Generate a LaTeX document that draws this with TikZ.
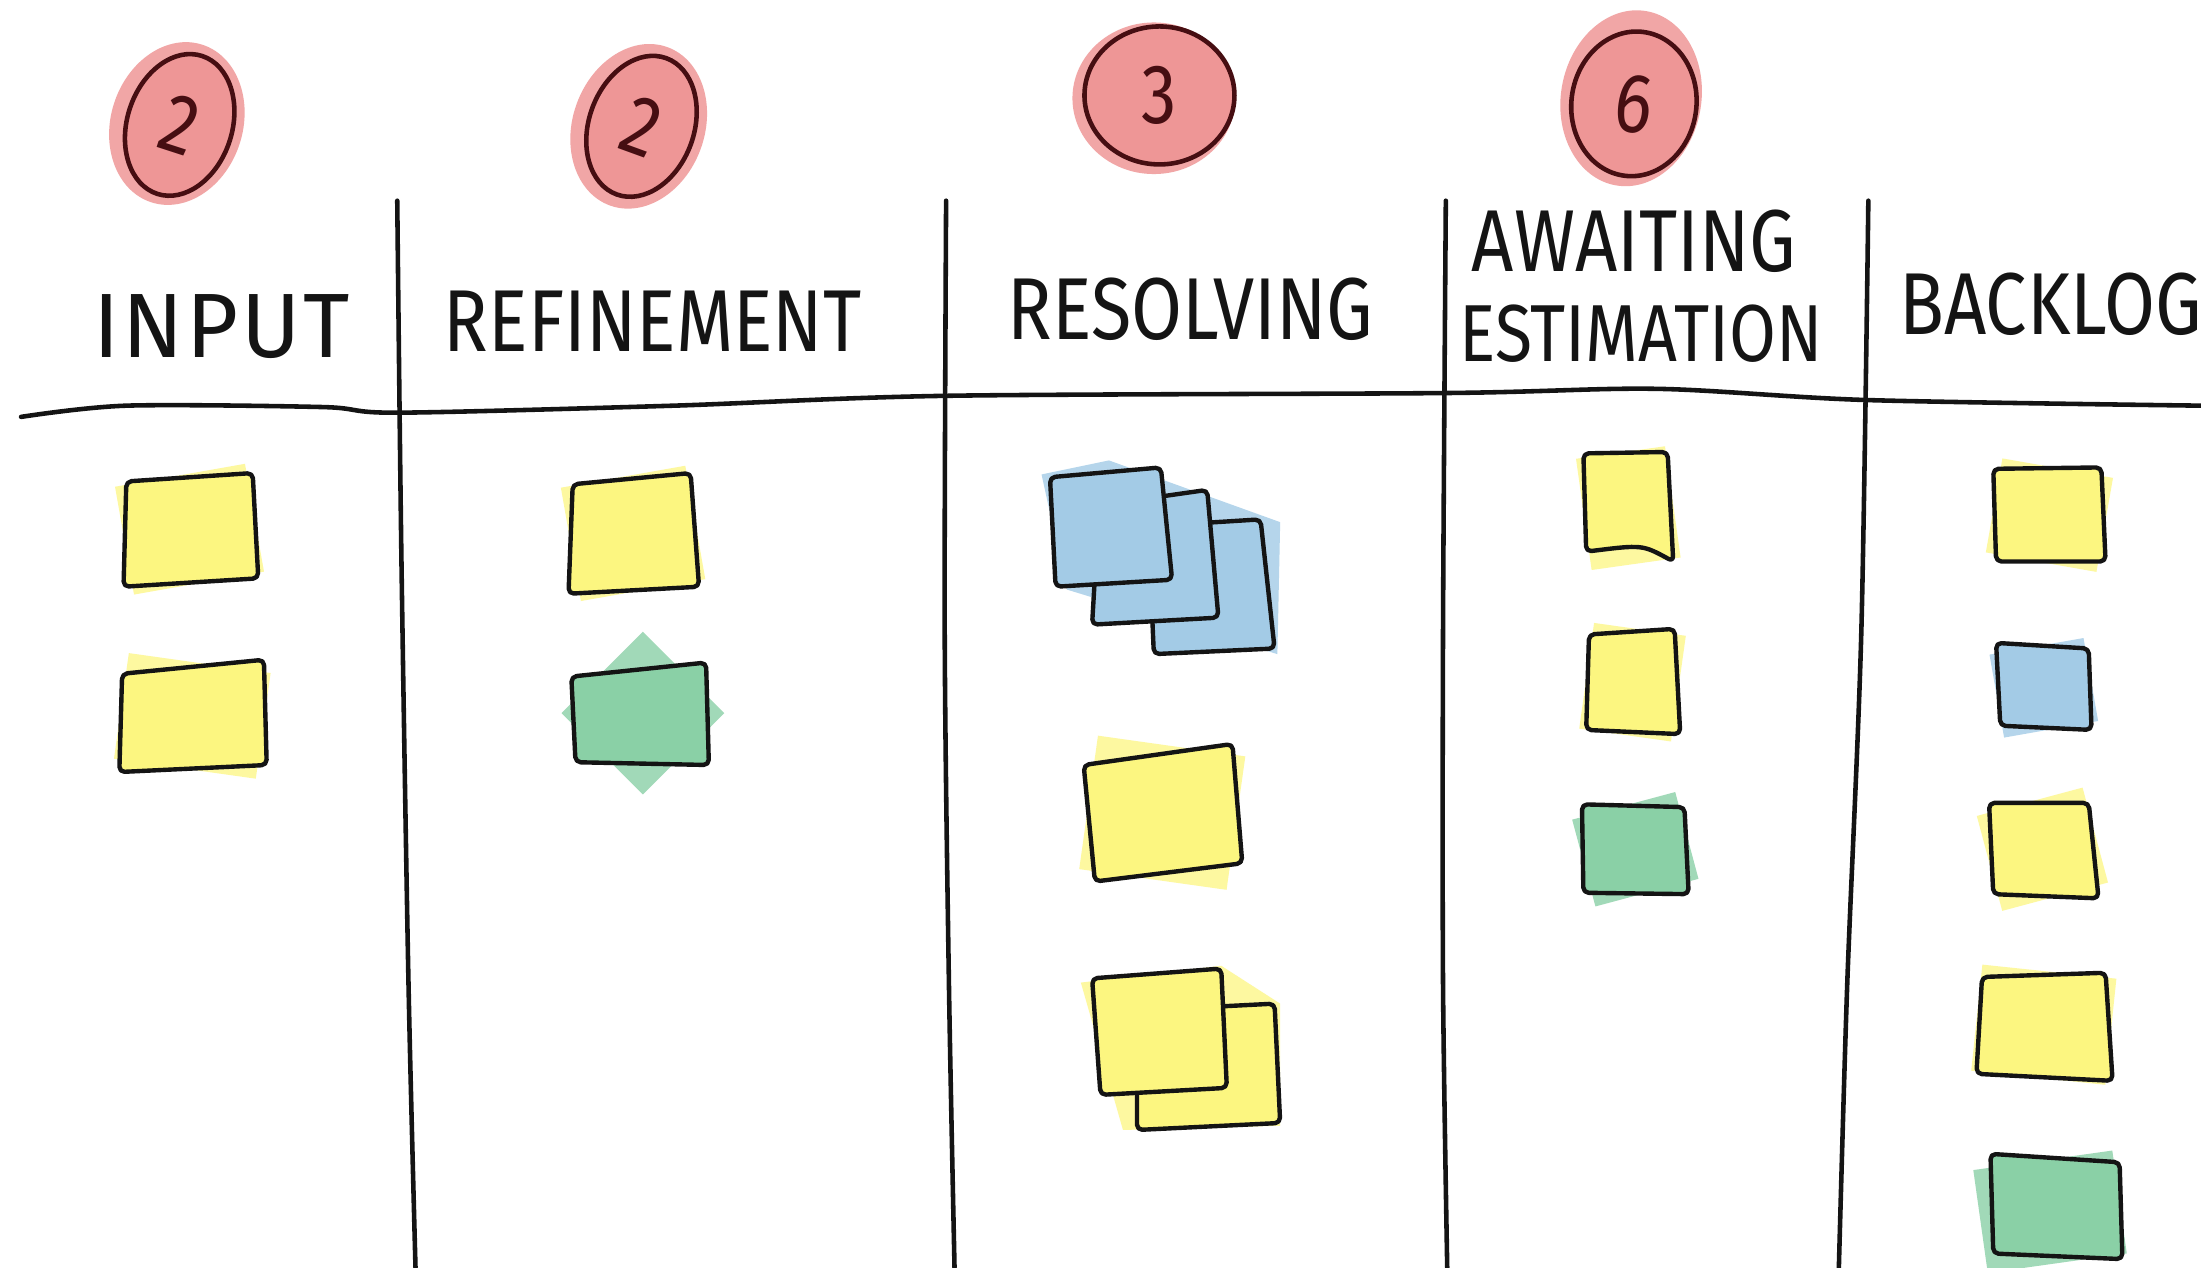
\documentclass[tikz,border=0pt]{standalone}
\usepackage{fontspec}
\usetikzlibrary{shapes.geometric}
\newfontfamily\handfont[FakeStretch=0.84]{Fira Sans}
\newfontfamily\handwide[FakeStretch=0.98, LetterSpace=3]{Fira Sans}
\definecolor{boardInk}{RGB}{20,20,20}
\definecolor{noteYellow}{RGB}{252,246,128}
\definecolor{noteBlue}{RGB}{163,203,230}
\definecolor{noteGreen}{RGB}{138,208,166}
\definecolor{badgePink}{RGB}{238,150,150}
\definecolor{badgeRing}{RGB}{70,14,18}
\tikzset{
  board/.style={line width=1.3pt, draw=boardInk, line cap=round},
  colhead/.style={font=\handfont\fontsize{25}{27}\selectfont, text=boardInk,
    align=center, inner sep=0pt},
  note/.style={line width=1.25pt, draw=boardInk, line join=round,
    rounded corners=1.5pt},
  ynote/.style={note, fill=noteYellow},
  bnote/.style={note, fill=noteBlue},
  gnote/.style={note, fill=noteGreen},
  ywash/.style={fill=noteYellow!75},
  bwash/.style={fill=noteBlue!80},
  gwash/.style={fill=noteGreen!80},
  pwash/.style={fill=badgePink!85}
}
\begin{document}
\begin{tikzpicture}[x=0.014037cm, y=-0.014037cm,
  badge/.style={ellipse, draw=badgeRing, line width=1.3pt, fill=badgePink,
    inner sep=0pt, font=\handfont\fontsize{24}{26}\selectfont,
    text=badgeRing}
]
\path[fill=white, use as bounding box] (0,0) rectangle (1568,903);

% WIP limits
\fill[pwash, rotate around={-18:(126,88)}] (126,88) ellipse (47 and 59);
\node[badge, rotate=-18, minimum width=1.05cm, minimum height=1.45cm]
  (winput) at (128,89) {2};
\fill[pwash, rotate around={-20:(455,90)}] (455,90) ellipse (47 and 60);
\node[badge, rotate=-20, minimum width=1.05cm, minimum height=1.45cm]
  (wrefine) at (457,90) {2};
\fill[pwash] (822,70) ellipse (58 and 54);
\node[badge, minimum width=1.5cm, minimum height=1.38cm]
  (wresolve) at (826,68) {3};
\fill[pwash, rotate around={-10:(1162,70)}] (1162,70) ellipse (50 and 63);
\node[badge, rotate=-8, minimum width=1.25cm, minimum height=1.45cm]
  (wawait) at (1164,74) {6};

% board
\draw[board] plot[smooth] coordinates {(15,297) (90,289) (230,290)
  (283,294) (480,289) (673,282) (1030,280) (1180,277) (1330,285) (1568,289)};
\draw[board] plot[smooth] coordinates {(283,143) (286,400) (291,700) (296,903)};
\draw[board] plot[smooth] coordinates {(674,143) (673,450) (676,700) (680,903)};
\draw[board] plot[smooth] coordinates {(1030,143) (1028,450) (1028,700) (1031,903)};
\draw[board] plot[smooth] coordinates {(1331,143) (1326,450) (1316,700) (1310,903)};

\node[colhead, font=\handwide\fontsize{26}{28}\selectfont]
  (hinput) at (158,233) {INPUT};
\node[colhead] (hrefine) at (465,229) {REFINEMENT};
\node[colhead] (hresolve) at (848,220) {RESOLVING};
\node[colhead] (hawait) at (1164,172) {AWAITING};
\node[colhead, font=\handfont\fontsize{23}{25}\selectfont]
  (hestim) at (1169,238) {ESTIMATION};
\node[colhead] (hbacklog) at (1461,217) {BACKLOG};

% input
\fill[ywash, rotate around={10:(135,377)}] (88,338) rectangle (182,416);
\filldraw[ynote] (90,343) -- (180,337) -- (184,412) -- (88,418) -- cycle;
\fill[ywash, rotate around={-8:(137,510)}] (86,472) rectangle (188,548);
\filldraw[ynote] (87,480) -- (188,470) -- (190,545) -- (85,550) -- cycle;

% refinement
\fill[ywash, rotate around={10:(451,380)}] (406,339) rectangle (496,421);
\filldraw[ynote] (408,345) -- (492,337) -- (498,418) -- (405,423) -- cycle;
\fill[gwash, rotate around={45:(458,508)}] (417,467) rectangle (499,549);
\filldraw[gnote] (407,482) -- (503,472) -- (505,545) -- (410,543) -- cycle;

% resolving
\fill[bwash] (742,338) -- (790,328) -- (912,372) -- (910,466) -- (760,420) -- cycle;
\filldraw[bnote] (818,375) -- (898,370) -- (908,462) -- (822,466) -- cycle;
\filldraw[bnote] (783,360) -- (860,349) -- (868,440) -- (778,445) -- cycle;
\filldraw[bnote] (748,340) -- (827,333) -- (835,413) -- (752,418) -- cycle;
\fill[ywash, rotate around={-8:(828,579)}] (775,531) rectangle (881,627);
\filldraw[ynote] (772,545) -- (878,530) -- (885,615) -- (780,628) -- cycle;
\fill[ywash] (770,700) -- (870,688) -- (912,715) -- (912,802) -- (800,805) -- cycle;
\filldraw[ynote] (810,720) -- (908,715) -- (912,800) -- (810,805) -- cycle;
\filldraw[ynote] (778,697) -- (870,690) -- (874,775) -- (784,780) -- cycle;

% awaiting estimation
\fill[ywash, rotate around={8:(1160,362)}] (1128,322) rectangle (1192,402);
\filldraw[ynote] (1128,323) -- (1188,322) -- (1192,400)
  .. controls (1170,388) .. (1130,393) -- cycle;
\fill[ywash, rotate around={-8:(1163,486)}] (1130,448) rectangle (1196,524);
\filldraw[ynote] (1132,452) -- (1193,448) -- (1197,523) -- (1130,520) -- cycle;
\fill[gwash, rotate around={15:(1165,605)}] (1127,573) rectangle (1203,637);
\filldraw[gnote] (1127,573) -- (1200,575) -- (1203,637) -- (1128,636) -- cycle;

% backlog
\fill[ywash, rotate around={-10:(1460,367)}] (1420,333) rectangle (1500,401);
\filldraw[ynote] (1420,334) -- (1497,333) -- (1500,400) -- (1422,400) -- cycle;
\fill[bwash, rotate around={10:(1456,490)}] (1422,460) rectangle (1490,520);
\filldraw[bnote] (1422,458) -- (1488,462) -- (1490,520) -- (1425,517) -- cycle;
\fill[ywash, rotate around={15:(1455,605)}] (1416,570) rectangle (1494,640);
\filldraw[ynote] (1417,572) -- (1488,572) -- (1495,640) -- (1420,637) -- cycle;
\fill[ywash, rotate around={-6:(1456,730)}] (1408,692) rectangle (1504,768);
\filldraw[ynote] (1412,696) -- (1500,693) -- (1505,770) -- (1408,765) -- cycle;
\fill[gwash, rotate around={8:(1462,860)}] (1410,826) rectangle (1510,900);
\filldraw[gnote] (1418,822) -- (1510,828) -- (1512,897) -- (1420,893) -- cycle;
\end{tikzpicture}
\end{document}
